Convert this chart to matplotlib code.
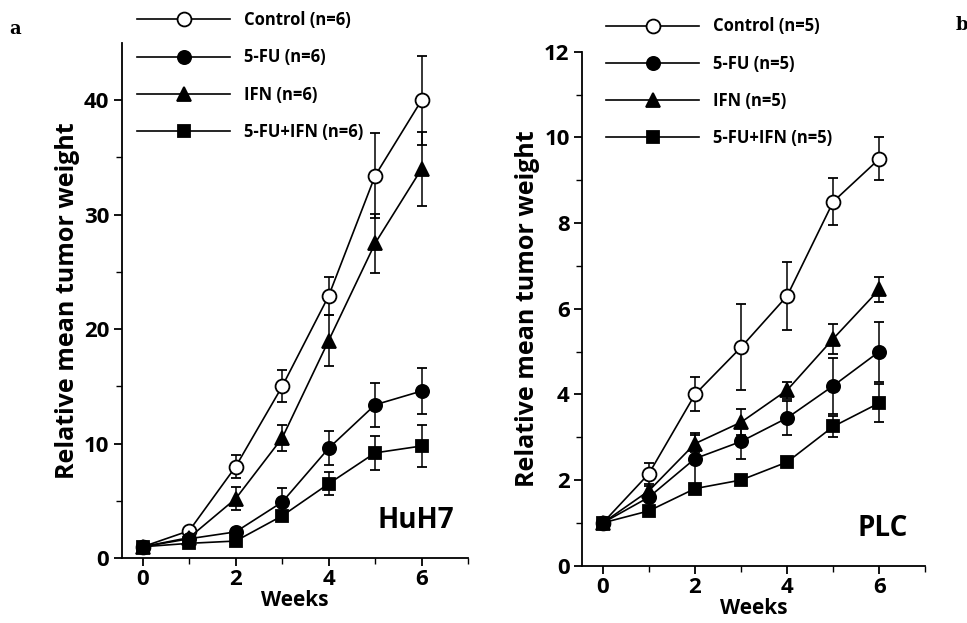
import numpy as np
import matplotlib
matplotlib.use("Agg")
import matplotlib.pyplot as plt
from matplotlib.lines import Line2D

plt.rcParams['font.family'] = ['Open Sans', 'DejaVu Sans']
plt.rcParams['font.weight'] = 'bold'

weeks = [0, 1, 2, 3, 4, 5, 6]
groups = ['Control', '5-FU', 'IFN', '5-FU+IFN']

# HuH7 (panel a)
huh7_ctrl = [1.0, 2.4, 8.0, 15.0, 22.9, 33.4, 40.0]
huh7_ctrl_err = [0.0, 0.3, 1.0, 1.4, 1.7, 3.7, 3.9]
huh7_fu = [1.0, 1.7, 2.3, 4.9, 9.6, 13.4, 14.6]
huh7_fu_err = [0.0, 0.2, 0.3, 1.2, 1.5, 1.9, 2.0]
huh7_ifn = [1.0, 1.8, 5.2, 10.5, 19.0, 27.5, 34.0]
huh7_ifn_err = [0.0, 0.2, 1.0, 1.1, 2.2, 2.6, 3.2]
huh7_comb = [1.0, 1.3, 1.5, 3.7, 6.5, 9.2, 9.8]
huh7_comb_err = [0.0, 0.2, 0.3, 0.4, 1.0, 1.5, 1.8]

# PLC (panel b)
plc_ctrl = [1.0, 2.15, 4.0, 5.1, 6.3, 8.5, 9.5]
plc_ctrl_err = [0.0, 0.25, 0.4, 1.0, 0.8, 0.55, 0.5]
plc_fu = [1.0, 1.6, 2.5, 2.9, 3.45, 4.2, 5.0]
plc_fu_err = [0.0, 0.1, 0.6, 0.4, 0.4, 0.65, 0.7]
plc_ifn = [1.0, 1.75, 2.85, 3.35, 4.1, 5.3, 6.45]
plc_ifn_err = [0.0, 0.1, 0.2, 0.3, 0.2, 0.35, 0.3]
plc_comb = [1.0, 1.28, 1.8, 2.0, 2.42, 3.25, 3.8]
plc_comb_err = [0.0, 0.05, 0.1, 0.1, 0.1, 0.25, 0.45]

n_huh7 = 6
n_plc = 5

markers = ['o', 'o', '^', 's']
faces = ['white', 'black', 'black', 'black']
msizes = [10, 9.5, 10, 9]

fig = plt.figure(figsize=(9.67, 6.23), dpi=100)
axa = fig.add_axes([0.126, 0.104, 0.358, 0.827])
axb = fig.add_axes([0.602, 0.092, 0.355, 0.825])


def draw(ax, series, errs, ymax, major, minor, name, name_xy, xpad):
    for i, (s, e) in enumerate(zip(series, errs)):
        ax.errorbar(weeks, s, yerr=e, color='black', lw=1.2, elinewidth=1.1,
                    capsize=3.5, capthick=1.1, marker=markers[i],
                    mfc=faces[i], mec='black', mew=1.3, ms=msizes[i],
                    zorder=3 + i)
    ax.set_xlim(-0.45, 7.0)
    ax.set_ylim(0, ymax)
    ax.set_xticks([0, 2, 4, 6])
    ax.set_xticks([1, 3, 5, 7], minor=True)
    ax.set_yticks(np.arange(0, ymax + 0.01, major))
    ax.set_yticks(np.arange(minor, ymax, major), minor=True)
    for sp in ['top', 'right']:
        ax.spines[sp].set_visible(False)
    for sp in ['left', 'bottom']:
        ax.spines[sp].set_linewidth(1.3)
    ax.tick_params(which='major', length=6, width=1.3, labelsize=16, pad=3)
    ax.tick_params(which='minor', length=4, width=1.0)
    ax.tick_params(axis='x', which='major', pad=2)
    for lab in ax.get_xticklabels() + ax.get_yticklabels():
        lab.set_fontweight('bold')
    ax.set_xlabel('Weeks', fontsize=15, fontweight='bold', labelpad=xpad)
    ax.set_ylabel('Relative mean tumor weight', fontsize=18, fontweight='bold',
                  labelpad=3)
    ax.text(name_xy[0], name_xy[1], name, fontsize=20, fontweight='bold',
            ha='right', va='bottom', transform=ax.transAxes)


draw(axa, [huh7_ctrl, huh7_fu, huh7_ifn, huh7_comb],
     [huh7_ctrl_err, huh7_fu_err, huh7_ifn_err, huh7_comb_err],
     45, 10, 5, 'HuH7', (0.96, 0.045), 0)
draw(axb, [plc_ctrl, plc_fu, plc_ifn, plc_comb],
     [plc_ctrl_err, plc_fu_err, plc_ifn_err, plc_comb_err],
     12, 2, 1, 'PLC', (0.95, 0.045), 0.5)


def legend(ax, n, anchor):
    handles = [Line2D([0], [0], color='black', lw=1.2, marker=markers[i],
                      mfc=faces[i], mec='black', mew=1.3, ms=msizes[i])
               for i in range(4)]
    labels = ['%s (n=%d)' % (g, n) for g in groups]
    leg = fig.legend(handles, labels, loc='upper left', bbox_to_anchor=anchor,
                     frameon=False, handlelength=5.6, labelspacing=1.15,
                     handletextpad=0.8, prop={'size': 12, 'weight': 'bold'})
    return leg


legend(axa, n_huh7, (0.126, 1.006))
legend(axb, n_plc, (0.611, 0.996))

fig.text(0.010, 0.945, 'a', family='DejaVu Serif', fontsize=13, fontweight='bold')
fig.text(0.988, 0.952, 'b', family='DejaVu Serif', fontsize=13, fontweight='bold')

fig.savefig('out.png', dpi=100)
